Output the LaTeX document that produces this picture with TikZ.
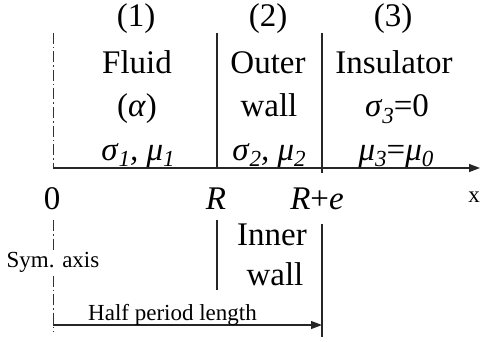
\documentclass[tikz,border=0pt]{standalone}
\usepackage{fontspec}
\setmainfont{Liberation Serif}
\usetikzlibrary{arrows.meta}
\newcommand\sbs[1]{\raisebox{-0.2em}{\fontsize{23}{23}\selectfont\itshape #1}}
\begin{document}
\begin{tikzpicture}[x=1pt,y=-1pt,
  big/.style={font=\fontsize{33}{38}\selectfont, inner sep=0pt, anchor=base},
  small/.style={font=\fontsize{23}{26}\selectfont, inner sep=0pt, anchor=base},
  solidline/.style={line width=1.3pt, draw=black!85},
  symline/.style={line width=1pt, draw=black!80, dash pattern=on 11pt off 3pt on 1.5pt off 3pt},
  arr/.style={-{Triangle[length=11pt,width=8pt]}}]
\useasboundingbox (0,0) rectangle (481,342);
% coordinates
\coordinate (o) at (53,168);
\coordinate (xend) at (480,168);
\coordinate (symtop) at (53,33);
\coordinate (symlo1) at (53,220);
\coordinate (symlo2) at (53,332);
\coordinate (rtop) at (217,33);
\coordinate (rax) at (217,168);
\coordinate (rlo1) at (217,220);
\coordinate (rlo2) at (217,290);
\coordinate (retop) at (322,33);
\coordinate (reax) at (322,173);
\coordinate (relo1) at (322,224);
\coordinate (relo2) at (322,337);
\coordinate (hpstart) at (53,325);
\coordinate (hpend) at (322,325);
% lines
\draw[symline] (symtop) -- (o);
\draw[symline] (symlo1) -- (symlo2);
\draw[solidline] (rtop) -- (rax);
\draw[solidline] (rlo1) -- (rlo2);
\draw[solidline] (retop) -- (reax);
\draw[solidline] (relo1) -- (relo2);
\draw[solidline, arr] (o) -- (xend);
\draw[solidline, line width=1.1pt, arr] (hpstart) -- (hpend);
% labels row 1
\node[big] (n1) at (136,27) {(1)};
\node[big] (n2) at (268,27) {(2)};
\node[big] (n3) at (393,27) {(3)};
% row 2
\node[big] (fluid) at (137,74) {Fluid};
\node[big] (outer) at (268,74) {Outer};
\node[big] (insul) at (394,74) {Insulator};
% row 3
\node[big] (alpha) at (137,117) {(\textit{α})};
\node[big] (wall1) at (269,117) {wall};
\node[big] (sig3) at (397,117) {\textit{σ}\sbs{3}=0};
% row 4
\node[big] (sm1) at (138,160) {\textit{σ}\sbs{1}\textit{, μ}\sbs{1}};
\node[big] (sm2) at (269,160) {\textit{σ}\sbs{2}\textit{, μ}\sbs{2}};
\node[big] (mu3) at (396,160) {\textit{μ}\sbs{3}=\textit{μ}\sbs{0}};
% axis labels
\node[big] (zero) at (52,209) {0};
\node[big] (rlab) at (216,209) {\textit{R}};
\node[big] (relab) at (317,209) {\textit{R}+\textit{e}};
\node[small] (xlab) at (474,202) {x};
\node[big] (inner) at (272,245) {Inner};
\node[big] (wall2) at (275,285) {wall};
\node[small, fill=white, inner sep=1pt] (sym) at (53,267) {Sym. axis};
\node[small, anchor=base west] (half) at (88,320) {Half period length};
\end{tikzpicture}
\end{document}
